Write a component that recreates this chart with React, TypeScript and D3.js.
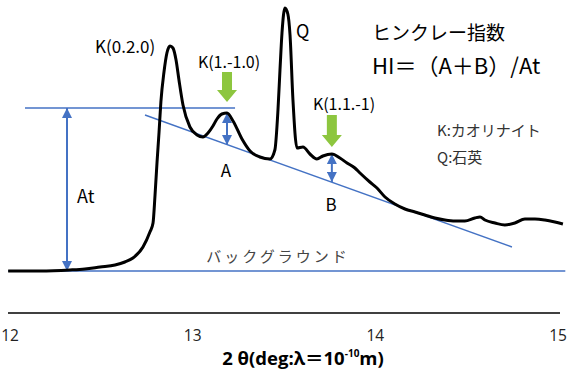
import * as d3 from 'd3';
import { useEffect, useRef } from 'react';

// XRD pattern (2theta in degrees, intensity in arbitrary counts above background)
const twoTheta = [
  11.99, 12.164, 12.328, 12.41, 12.493, 12.575, 12.629, 12.673, 12.728, 12.766,
  12.783, 12.794, 12.805, 12.816, 12.826, 12.843, 12.859, 12.876, 12.892, 12.909,
  12.925, 12.947, 12.985, 13.024, 13.056, 13.084, 13.111, 13.133, 13.16, 13.188,
  13.221, 13.27, 13.314, 13.368, 13.423, 13.45, 13.467, 13.478, 13.489, 13.505,
  13.521, 13.533, 13.549, 13.571, 13.604, 13.642, 13.68, 13.713, 13.762, 13.806,
  13.845, 13.888, 13.916, 13.97, 14.009, 14.053, 14.107, 14.162, 14.217, 14.271,
  14.326, 14.381, 14.436, 14.49, 14.545, 14.573, 14.6, 14.655, 14.709, 14.764,
  14.819, 14.874, 14.928, 14.983, 15.027
];
const intensity = [
  0, 0, 1, 2, 4, 6, 9, 13, 24, 39,
  48, 76, 109, 139, 169, 199, 218, 225, 223, 211,
  191, 166, 144, 136, 134, 138, 145, 152, 157, 158,
  150, 132, 120, 114, 112, 121, 161, 201, 238, 263,
  257, 236, 171, 123, 124, 117, 112, 115, 117, 113,
  108, 103, 98, 89, 83, 74, 67, 62, 59, 56,
  53, 51, 50, 50, 53, 54, 51, 48, 46, 48,
  52, 52, 51, 49, 47
];

const xTicks = [12, 13, 14, 15];

// construction lines (data coordinates)
const topLine = { x: [12.082, 13.232], y: [163, 163] };
const tangentLine = { x: [12.739, 14.748], y: [156, 24] };
const backgroundLine = { x: [11.99, 15.04], y: [0, 0] };
const atArrow = { x: 12.312, y: [163, 0] };
const aArrow = { x: 13.188, y: [158, 126] };
const bArrow = { x: 13.762, y: [117, 89] };
const greenArrows = [
  { x: 13.188, top: 199, tip: 169 },
  { x: 13.762, top: 156, tip: 124 }
];

const BLUE = '#4472C4';
const GREEN = '#8DC63F';
const JP = '"Noto Sans CJK JP", "Noto Sans", sans-serif';

export default function App() {
  const ref = useRef<SVGSVGElement>(null);

  useEffect(() => {
    const width = 572;
    const height = 369;
    const svg = d3.select(ref.current);
    svg.selectAll('*').remove();
    svg.attr('width', width).attr('height', height);

    svg.append('rect').attr('width', width).attr('height', height).attr('fill', '#fff');

    const x = d3.scaleLinear().domain([12, 15]).range([10, 558]);
    const y = d3.scaleLinear().domain([0, 263]).range([271, 8]);

    const defs = svg.append('defs');
    const marker = (id: string, orient: string) =>
      defs.append('marker')
        .attr('id', id)
        .attr('viewBox', '0 0 10 10')
        .attr('refX', 10).attr('refY', 5)
        .attr('markerWidth', 5).attr('markerHeight', 5)
        .attr('orient', orient)
        .append('path')
        .attr('d', 'M0,0 L10,5 L0,10 z')
        .attr('fill', BLUE);
    marker('arrEnd', 'auto');
    marker('arrStart', 'auto-start-reverse');

    const seg = d3.line<[number, number]>().x((d) => x(d[0])).y((d) => y(d[1]));

    // x axis line
    svg.append('line')
      .attr('x1', 8).attr('x2', 560)
      .attr('y1', 313).attr('y2', 313)
      .attr('stroke', '#000').attr('stroke-width', 1.5);

    svg.append('g')
      .selectAll('text')
      .data(xTicks)
      .enter()
      .append('text')
      .attr('x', (d) => x(d))
      .attr('y', 341)
      .attr('text-anchor', 'middle')
      .attr('font-family', 'Open Sans, sans-serif')
      .attr('font-size', 15.5)
      .attr('fill', '#222')
      .text((d) => d);

    // x axis title
    const title = svg.append('text')
      .attr('x', 303).attr('y', 365)
      .attr('text-anchor', 'middle')
      .attr('font-family', 'Open Sans, "Noto Sans CJK JP", sans-serif')
      .attr('font-weight', 'bold')
      .attr('font-size', 18.5)
      .attr('fill', '#000');
    title.append('tspan').text('2 θ(deg:λ＝10');
    title.append('tspan').attr('font-size', 10).attr('dy', -8).text('-10');
    title.append('tspan').attr('dy', 8).text('m)');

    // blue construction lines
    [topLine, tangentLine, backgroundLine].forEach((l) => {
      svg.append('path')
        .attr('d', seg(l.x.map((v, i) => [v, l.y[i]] as [number, number])))
        .attr('stroke', BLUE).attr('stroke-width', 1.4).attr('fill', 'none');
    });

    [atArrow, aArrow, bArrow].forEach((a) => {
      svg.append('line')
        .attr('x1', x(a.x)).attr('x2', x(a.x))
        .attr('y1', y(a.y[0])).attr('y2', y(a.y[1]))
        .attr('stroke', BLUE).attr('stroke-width', 2)
        .attr('marker-start', 'url(#arrStart)')
        .attr('marker-end', 'url(#arrEnd)');
    });

    // diffraction curve
    const pts = twoTheta.map((t, i) => [t, intensity[i]] as [number, number]);
    svg.append('path')
      .attr('d', d3.line<[number, number]>().x((d) => x(d[0])).y((d) => y(d[1])).curve(d3.curveMonotoneX)(pts))
      .attr('fill', 'none')
      .attr('stroke', '#000')
      .attr('stroke-width', 3)
      .attr('stroke-linejoin', 'round');

    // green arrows
    greenArrows.forEach((g) => {
      const cx = x(g.x);
      const t = y(g.top);
      const tip = y(g.tip);
      const hb = tip - 12;
      svg.append('path')
        .attr('d', `M${cx - 5},${t} L${cx + 5},${t} L${cx + 5},${hb} L${cx + 10},${hb} L${cx},${tip} L${cx - 10},${hb} L${cx - 5},${hb} Z`)
        .attr('fill', GREEN);
    });

    const label = (tx: number, ty: number, s: string, size: number, fill = '#000', anchor = 'start') =>
      svg.append('text')
        .attr('x', tx).attr('y', ty)
        .attr('text-anchor', anchor)
        .attr('font-family', JP)
        .attr('font-size', size)
        .attr('fill', fill)
        .text(s);

    label(95, 53, 'K(0.2.0)', 17);
    label(296, 38, 'Q', 18);
    label(229, 68, 'K(1.-1.0)', 16, '#000', 'middle');
    label(344, 110, 'K(1.1.-1)', 16, '#000', 'middle');
    label(226, 177, 'A', 17, '#000', 'middle');
    label(331, 211, 'B', 17, '#000', 'middle');
    label(77, 203, 'At', 18);
    label(278, 262, 'バックグラウンド', 15, '#444', 'middle').attr('letter-spacing', 3);
    label(372, 40, 'ヒンクレー指数', 19);
    label(372, 74, 'HI＝（A＋B）/At', 22);
    label(437, 136, 'K:カオリナイト', 15, '#333');
    label(437, 163, 'Q:石英', 15, '#333');
  }, []);

  return (
    <svg ref={ref} style={{ position: 'absolute', left: 0, top: 0, display: 'block' }}></svg>
  );
}
